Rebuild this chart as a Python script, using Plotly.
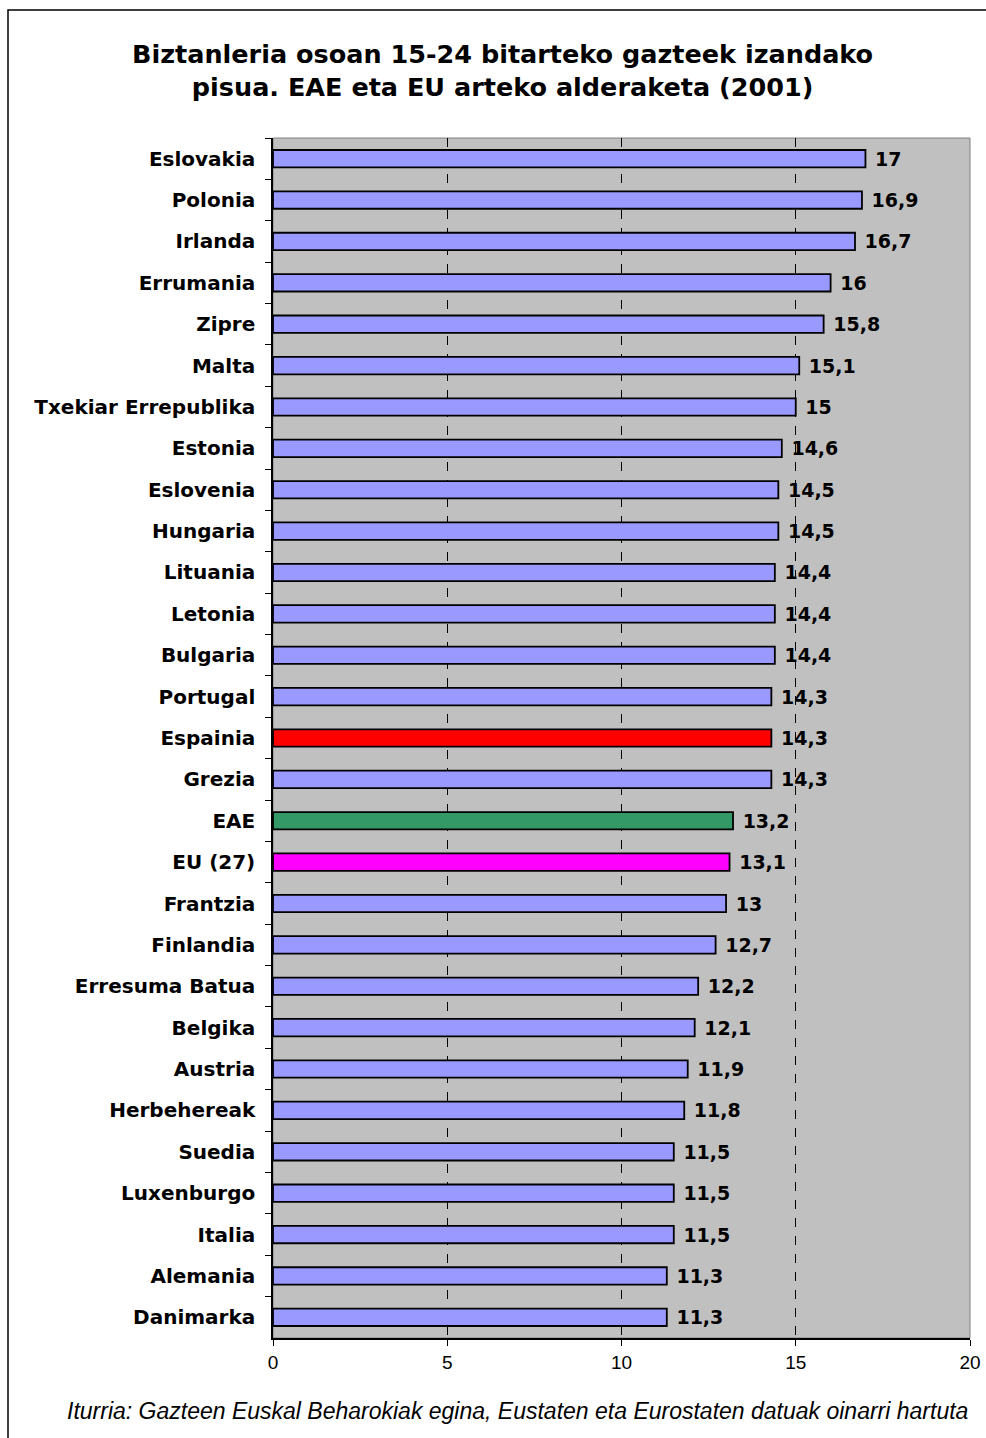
import plotly.graph_objects as go

countries = ["Eslovakia", "Polonia", "Irlanda", "Errumania", "Zipre", "Malta",
             "Txekiar Errepublika", "Estonia", "Eslovenia", "Hungaria", "Lituania",
             "Letonia", "Bulgaria", "Portugal", "Espainia", "Grezia", "EAE", "EU (27)",
             "Frantzia", "Finlandia", "Erresuma Batua", "Belgika", "Austria",
             "Herbehereak", "Suedia", "Luxenburgo", "Italia", "Alemania", "Danimarka"]
values = [17, 16.9, 16.7, 16, 15.8, 15.1, 15, 14.6, 14.5, 14.5, 14.4, 14.4, 14.4,
          14.3, 14.3, 14.3, 13.2, 13.1, 13, 12.7, 12.2, 12.1, 11.9, 11.8, 11.5,
          11.5, 11.5, 11.3, 11.3]
highlight_colors = {"Espainia": "#FF0000", "EAE": "#339966", "EU (27)": "#FF00FF"}
x_ticks = [0, 5, 10, 15, 20]

title_text = ("Biztanleria osoan 15-24 bitarteko gazteek izandako<br>"
              "pisua. EAE eta EU arteko alderaketa (2001)")
source_text = "Iturria: Gazteen Euskal Beharokiak egina, Eustaten eta Eurostaten datuak oinarri hartuta"

W, H = 986, 1438
ML, MR, MT, MB = 273, 16, 138, 100
PW, PH = W - ML - MR, H - MT - MB


def px_x(p):
    return (p - ML) / PW


def px_y(p):
    return (H - MB - p) / PH


colors = [highlight_colors.get(c, "#9999FF") for c in countries]
labels = [" " + f"{v:g}".replace(".", ",") for v in values]

fig = go.Figure(go.Bar(
    y=countries, x=values, orientation="h",
    marker=dict(color=colors, line=dict(color="#000000", width=1.8)),
    width=0.42,
    text=labels, textposition="outside", cliponaxis=False, constraintext="none",
    textfont=dict(family="DejaVu Sans", size=19, color="#000000", weight="bold"),
))

fig.update_layout(
    width=W, height=H,
    margin=dict(l=ML, r=MR, t=MT, b=MB, autoexpand=False),
    paper_bgcolor="#FFFFFF", plot_bgcolor="#C0C0C0",
    showlegend=False,
    font=dict(family="DejaVu Sans", color="#000000"),
    xaxis=dict(range=[0, 20], tickvals=x_ticks, ticks="outside", ticklen=6,
               tickcolor="#000000", showline=True, linecolor="#000000", linewidth=1.5,
               showgrid=True, gridcolor="#000000", griddash="dash", gridwidth=1,
               zeroline=False, automargin=False,
               tickfont=dict(family="Liberation Sans Narrow, Liberation Sans, Arial", size=19)),
    yaxis=dict(categoryorder="array", categoryarray=countries, autorange="reversed",
               ticks="outside", tickson="boundaries", ticklen=6, tickcolor="#000000",
               showline=True, linecolor="#000000", linewidth=1.5, showgrid=False,
               ticklabelstandoff=12, automargin=False,
               tickfont=dict(family="DejaVu Sans", size=20, weight="bold")),
    shapes=[
        dict(type="rect", xref="paper", yref="paper", x0=0, x1=1, y0=0, y1=1,
             line=dict(color="#808080", width=1), layer="below"),
        dict(type="rect", xref="paper", yref="paper",
             x0=px_x(8), x1=px_x(W + 30), y0=px_y(10), y1=px_y(H + 30),
             line=dict(color="#000000", width=1.5)),
    ],
    annotations=[
        dict(text=title_text, xref="paper", yref="paper", x=px_x(502), y=px_y(71),
             xanchor="center", yanchor="middle", showarrow=False,
             font=dict(family="DejaVu Sans", size=25.5, weight="bold", color="#000000")),
        dict(text=source_text, xref="paper", yref="paper", x=px_x(517), y=px_y(1411),
             xanchor="center", yanchor="middle", showarrow=False,
             font=dict(family="Liberation Sans", size=23, style="italic", color="#000000")),
    ],
)

fig.write_html("out.html", config={"displayModeBar": False},
               post_script="document.body.style.margin='0';document.documentElement.style.overflow='hidden';")
